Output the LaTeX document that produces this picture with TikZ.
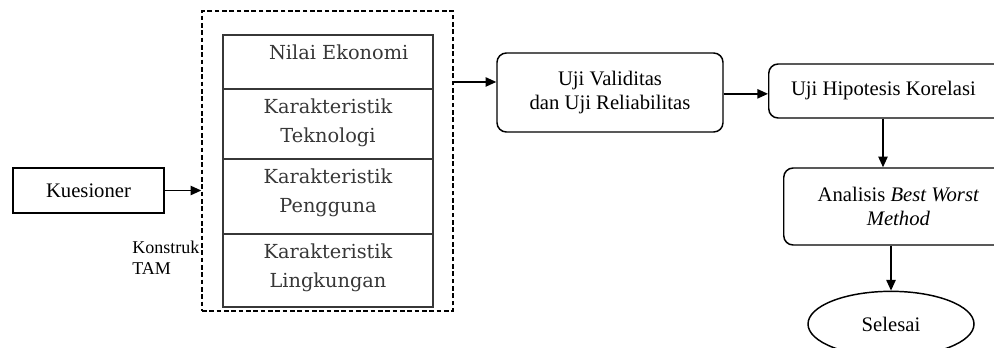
\documentclass[tikz,border=0pt]{standalone}
\usepackage{fontspec}
\setmainfont{Liberation Serif}
\newfontfamily\stackfont{DejaVu Serif}
\usepackage{tikz}
\usetikzlibrary{arrows.meta,positioning,shapes.geometric,calc}
\usepackage{xcolor}
\definecolor{stackgray}{RGB}{55,55,55}

\begin{document}
\begin{tikzpicture}[x=0.75pt,y=-0.75pt, every node/.style={font=\fontsize{15.5}{18}\selectfont},
  b/.style={draw,line width=1.1pt,minimum width=113.25pt,minimum height=33.75pt,inner sep=0pt},
  r/.style={draw,line width=1.1pt,rounded corners=7pt,align=center,inner sep=0pt},
  s/.style={draw=stackgray,line width=1.2pt,minimum width=157.5pt,align=center,inner sep=0pt,outer sep=0pt,
    text=stackgray,text height=40pt,font=\stackfont\fontsize{14.5}{22}\selectfont},
  a/.style={-{Triangle[length=8pt,width=7pt]},line width=1.1pt}]
\useasboundingbox (0,0) rectangle (994,347);
\clip (0,0) rectangle (994,347);
\node[b] (k) at (88.5,190.5) {Kuesioner};
\node[draw,dash pattern=on 3.5pt off 2pt,line width=1.1pt,minimum width=188.25pt,minimum height=225pt] (tam) at (327.5,161) {};
\node[s,text height=18pt,text depth=22.5pt,anchor=north] (s1) at (328,35) {\hspace{16pt}Nilai Ekonomi};
\node[s,text depth=12.5pt,below=0pt of s1] (s2) {Karakteristik\\ Teknologi};
\node[s,text depth=16.25pt,below=0pt of s2] (s3) {Karakteristik\\ Pengguna};
\node[s,text depth=14.75pt,below=0pt of s3] (s4) {Karakteristik\\ Lingkungan};
\node[anchor=north west,align=left,inner sep=0pt,font=\fontsize{13.5}{15.75}\selectfont] (kt) at (132,241) {Konstruk\\ TAM};
\node[r,minimum width=169.5pt,minimum height=59.25pt] (uv) at (610,92.5) {Uji Validitas\\ dan Uji Reliabilitas};
\node[r,minimum width=180pt,minimum height=40.5pt,anchor=west] (uh) at (768,91) {Uji Hipotesis Korelasi\hspace{8pt}};
\node[r,minimum width=172pt,minimum height=57.75pt,anchor=west] (an) at (783,206.5) {Analisis \textit{Best Worst}\hspace{10pt}\\ \textit{Method}\hspace{10pt}};
\node[draw,ellipse,line width=1.1pt,minimum width=124.5pt,minimum height=49pt,inner sep=0pt] (sel) at (891,324) {Selesai};
\draw[a] (k) -- (k -| tam.west);
\draw[a] ([yshift=7.9pt]uv.west -| tam.east) -- ([yshift=7.9pt]uv.west);
\draw[a] ([yshift=-1pt]uv.east) -- ([yshift=-1pt]uv.east -| uh.west);
\draw[a] (uh.south -| 883,0) -- (an.north -| 883,0);
\draw[a] (an.south -| sel.north) -- (sel.north);
\end{tikzpicture}
\end{document}
